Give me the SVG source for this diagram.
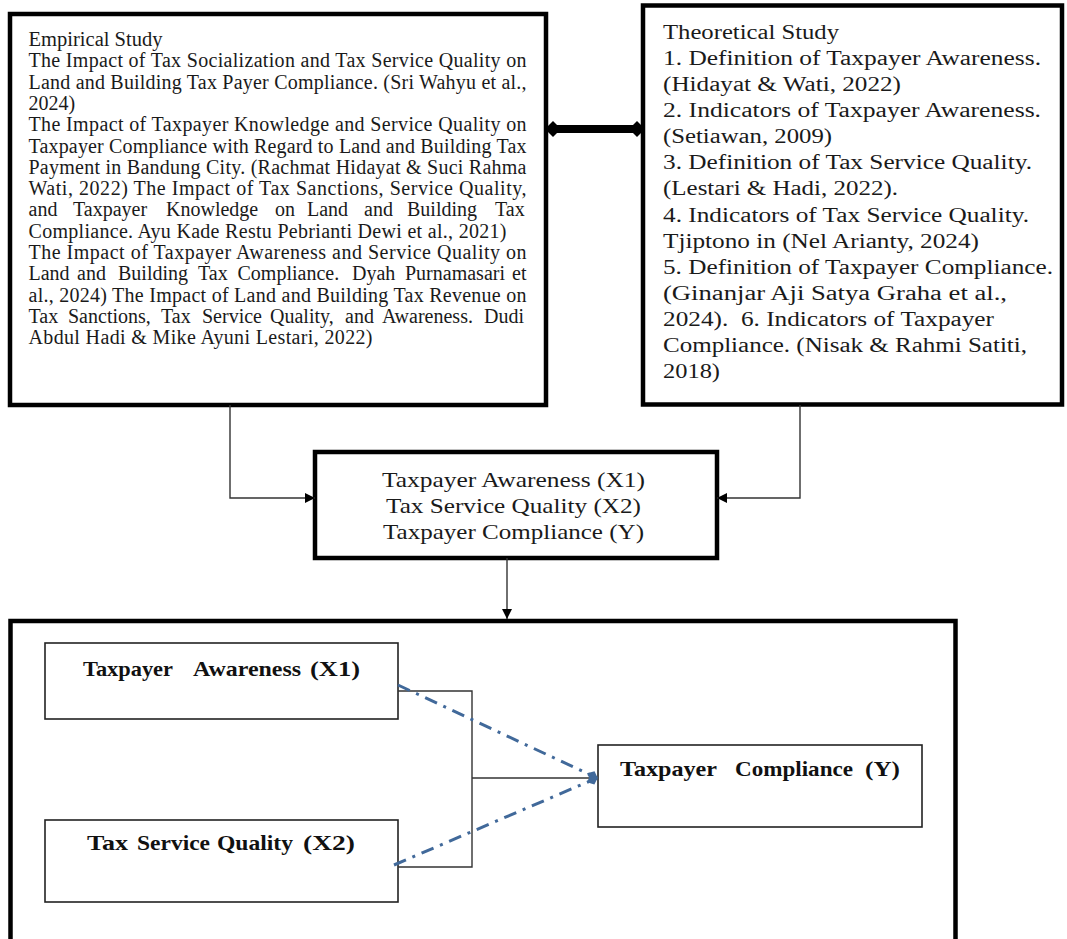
<svg xmlns="http://www.w3.org/2000/svg" width="1067" height="939" viewBox="0 0 1067 939">
<style>
.emp{font-family:"Liberation Serif","Times New Roman",serif;font-size:20px;fill:#1a1a1a}
.th{font-family:"Liberation Serif","Times New Roman",serif;font-size:20px;fill:#1a1a1a}
.mid{font-family:"Liberation Serif","Times New Roman",serif;font-size:22px;fill:#1a1a1a;text-anchor:middle}
.bold{font-family:"Liberation Serif","Times New Roman",serif;font-size:22px;font-weight:bold;fill:#111}
.thick{fill:#fff;stroke:#000;stroke-width:4.5}
.thin{fill:#fff;stroke:#222;stroke-width:1.6}
.conn{fill:none;stroke:#333;stroke-width:1.4}
.blue{fill:none;stroke:#41699a;stroke-width:3;stroke-dasharray:13 7 3 7}
</style>
<defs>
<marker id="arr" viewBox="0 0 10 10" refX="10" refY="5" markerWidth="10" markerHeight="10" markerUnits="userSpaceOnUse" orient="auto">
<path d="M0,0 L10,5 L0,10 z" fill="#000"/>
</marker>
<marker id="dia" viewBox="0 0 10 10" refX="5" refY="5" markerWidth="2" markerHeight="2" orient="auto">
<path d="M0,5 L5,0 L10,5 L5,10 z" fill="#000"/>
</marker>
<marker id="bdia" viewBox="0 0 12 12" refX="11" refY="6" markerWidth="12" markerHeight="12" markerUnits="userSpaceOnUse" orient="auto">
<path d="M0,6 L6,1 L12,6 L6,11 z" fill="#41699a"/>
</marker>
</defs>

<g id="empirical">
<rect class="thick" x="10" y="14" width="536" height="391"/>
<text class="emp" x="28.5" y="46" textLength="134" lengthAdjust="spacingAndGlyphs">Empirical Study</text>
<text class="emp" x="28.5" y="67.3" textLength="498" lengthAdjust="spacing">The Impact of Tax Socialization and Tax Service Quality on</text>
<text class="emp" x="28.5" y="88.6" textLength="498" lengthAdjust="spacing">Land and Building Tax Payer Compliance. (Sri Wahyu et al.,</text>
<text class="emp" x="28.5" y="109.9">2024)</text>
<text class="emp" x="28.5" y="131.2" textLength="498" lengthAdjust="spacing">The Impact of Taxpayer Knowledge and Service Quality on</text>
<text class="emp" x="28.5" y="152.5" textLength="498" lengthAdjust="spacing">Taxpayer Compliance with Regard to Land and Building Tax</text>
<text class="emp" x="28.5" y="173.8" textLength="498" lengthAdjust="spacing">Payment in Bandung City. (Rachmat Hidayat &amp; Suci Rahma</text>
<text class="emp" x="28.5" y="195.1" textLength="498" lengthAdjust="spacing">Wati, 2022) The Impact of Tax Sanctions, Service Quality,</text>
<text class="emp" y="216.4"><tspan x="28.5">and</tspan><tspan x="73">Taxpayer</tspan><tspan x="166">Knowledge</tspan><tspan x="275">on</tspan><tspan x="307">Land</tspan><tspan x="364">and</tspan><tspan x="407">Building</tspan><tspan x="495">Tax</tspan></text>
<text class="emp" x="28.5" y="237.7" textLength="478" lengthAdjust="spacing">Compliance. Ayu Kade Restu Pebrianti Dewi et al., 2021)</text>
<text class="emp" x="28.5" y="259" textLength="498" lengthAdjust="spacing">The Impact of Taxpayer Awareness and Service Quality on</text>
<text class="emp" y="280.3"><tspan x="28.5">Land</tspan><tspan x="77">and</tspan><tspan x="118">Building</tspan><tspan x="198">Tax</tspan><tspan x="237.5">Compliance.</tspan><tspan x="352">Dyah</tspan><tspan x="405">Purnamasari</tspan><tspan x="512">et</tspan></text>
<text class="emp" x="28.5" y="301.6" textLength="498" lengthAdjust="spacing">al., 2024) The Impact of Land and Building Tax Revenue on</text>
<text class="emp" y="322.9"><tspan x="28.5">Tax</tspan><tspan x="68">Sanctions,</tspan><tspan x="161">Tax</tspan><tspan x="202">Service</tspan><tspan x="270">Quality,</tspan><tspan x="345">and</tspan><tspan x="382">Awareness.</tspan><tspan x="484">Dudi</tspan></text>
<text class="emp" x="28.5" y="344.2" textLength="344" lengthAdjust="spacing">Abdul Hadi &amp; Mike Ayuni Lestari, 2022)</text>
</g>

<g id="theoretical">
<rect class="thick" x="643" y="5.5" width="419" height="399"/>
<text class="th" x="663" y="38.5" textLength="176" lengthAdjust="spacingAndGlyphs">Theoretical Study</text>
<text class="th" x="663" y="64.6" textLength="378" lengthAdjust="spacingAndGlyphs">1. Definition of Taxpayer Awareness.</text>
<text class="th" x="663" y="90.8" textLength="238" lengthAdjust="spacingAndGlyphs">(Hidayat &amp; Wati, 2022)</text>
<text class="th" x="663" y="116.9" textLength="378" lengthAdjust="spacingAndGlyphs">2. Indicators of Taxpayer Awareness.</text>
<text class="th" x="663" y="143.1" textLength="169" lengthAdjust="spacingAndGlyphs">(Setiawan, 2009)</text>
<text class="th" x="663" y="169.2" textLength="369" lengthAdjust="spacingAndGlyphs">3. Definition of Tax Service Quality.</text>
<text class="th" x="663" y="195.4" textLength="235" lengthAdjust="spacingAndGlyphs">(Lestari &amp; Hadi, 2022).</text>
<text class="th" x="663" y="221.5" textLength="366" lengthAdjust="spacingAndGlyphs">4. Indicators of Tax Service Quality.</text>
<text class="th" x="663" y="247.7" textLength="316" lengthAdjust="spacingAndGlyphs">Tjiptono in (Nel Arianty, 2024)</text>
<text class="th" x="663" y="273.8" textLength="390" lengthAdjust="spacingAndGlyphs">5. Definition of Taxpayer Compliance.</text>
<text class="th" x="663" y="300" textLength="344" lengthAdjust="spacingAndGlyphs">(Ginanjar Aji Satya Graha et al.,</text>
<text class="th" x="663" y="326.1" textLength="331" lengthAdjust="spacingAndGlyphs" xml:space="preserve">2024).  6. Indicators of Taxpayer</text>
<text class="th" x="663" y="352.3" textLength="364" lengthAdjust="spacingAndGlyphs">Compliance. (Nisak &amp; Rahmi Satiti,</text>
<text class="th" x="663" y="378.4" textLength="57" lengthAdjust="spacingAndGlyphs">2018)</text>
</g>

<g id="variables">
<rect class="thick" x="315" y="452" width="402" height="106"/>
<text class="mid" x="513.5" y="487" textLength="263" lengthAdjust="spacingAndGlyphs">Taxpayer Awareness (X1)</text>
<text class="mid" x="513.5" y="513" textLength="255" lengthAdjust="spacingAndGlyphs">Tax Service Quality (X2)</text>
<text class="mid" x="513.5" y="539" textLength="261" lengthAdjust="spacingAndGlyphs">Taxpayer Compliance (Y)</text>
</g>

<g id="framework">
<rect class="thick" x="10.5" y="621" width="945" height="330"/>
</g>

<g id="x1">
<rect class="thin" x="45" y="643" width="353" height="76"/>
<text class="bold" x="83" y="676" textLength="90" lengthAdjust="spacingAndGlyphs">Taxpayer</text>
<text class="bold" x="193" y="676" textLength="108" lengthAdjust="spacingAndGlyphs">Awareness</text>
<text class="bold" x="310" y="676" textLength="50" lengthAdjust="spacingAndGlyphs">(X1)</text>
</g>

<g id="x2">
<rect class="thin" x="45" y="820" width="353" height="82"/>
<text class="bold" x="87" y="850" textLength="41" lengthAdjust="spacingAndGlyphs">Tax</text>
<text class="bold" x="137" y="850" textLength="73" lengthAdjust="spacingAndGlyphs">Service</text>
<text class="bold" x="217" y="850" textLength="76" lengthAdjust="spacingAndGlyphs">Quality</text>
<text class="bold" x="303" y="850" textLength="52" lengthAdjust="spacingAndGlyphs">(X2)</text>
</g>

<g id="y">
<rect class="thin" x="598" y="745" width="324" height="82"/>
<text class="bold" x="620" y="776" textLength="97" lengthAdjust="spacingAndGlyphs">Taxpayer</text>
<text class="bold" x="735" y="776" textLength="118" lengthAdjust="spacingAndGlyphs">Compliance</text>
<text class="bold" x="865" y="776" textLength="35" lengthAdjust="spacingAndGlyphs">(Y)</text>
</g>

<g id="connectors">
<line x1="553" y1="129" x2="637" y2="129" stroke="#000" stroke-width="8" marker-start="url(#dia)" marker-end="url(#dia)"/>
<polyline class="conn" points="230,405 230,498 315,498" marker-end="url(#arr)"/>
<polyline class="conn" points="800,405 800,498 717,498" marker-end="url(#arr)"/>
<line class="conn" x1="507" y1="558" x2="507" y2="619" marker-end="url(#arr)"/>
<polyline class="conn" points="398,691 472,691 472,867 398,867"/>
<line class="conn" x1="472" y1="778" x2="598" y2="778"/>
<line class="blue" x1="398" y1="685" x2="597" y2="778" marker-end="url(#bdia)"/>
<line class="blue" x1="394" y1="865" x2="597" y2="778" marker-end="url(#bdia)"/>
</g>
</svg>
